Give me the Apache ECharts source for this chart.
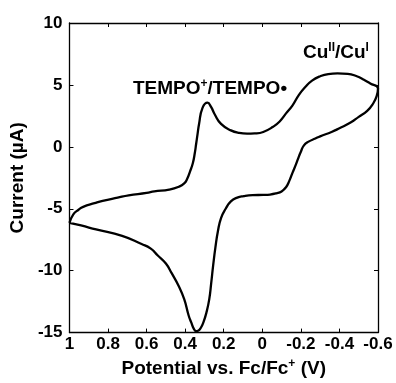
<!DOCTYPE html>
<html lang="en">
<head>
    <meta charset="UTF-8">
    <title>CV TEMPO / Cu</title>
    <script src="https://cdn.jsdelivr.net/npm/echarts@6/dist/echarts.min.js"></script>
    <style>
        html, body { margin: 0; padding: 0; background: #fff; }
        #cv { width: 396px; height: 383px; }
    </style>
</head>
<body>
<div id="cv"></div>
<script type="text/javascript">
    // upper branch, 1 V -> -0.6 V
    var upperE = [1, 0.98, 0.953, 0.929, 0.87, 0.828, 0.75, 0.693, 0.6, 0.56, 0.483, 0.433, 0.405,
        0.39, 0.375, 0.36, 0.35, 0.343, 0.336, 0.328, 0.31, 0.284, 0.265, 0.247, 0.214, 0.163, 0.12,
        0.079, 0.04, -0.005, -0.056, -0.09, -0.123, -0.157, -0.19, -0.224, -0.258, -0.3, -0.342,
        -0.39, -0.443, -0.49, -0.527, -0.56, -0.6];
    var upperI = [-6.14, -5.45, -5.08, -4.85, -4.55, -4.36, -4.1, -3.92, -3.72, -3.6, -3.45, -3.22, -2.95,
        -2.6, -2.0, -1.3, -0.5, 0.25, 1.0, 1.85, 3.15, 3.57, 3.2, 2.63, 1.85, 1.33, 1.12,
        1.06, 1.08, 1.2, 1.62, 2.05, 2.7, 3.35, 4.2, 4.85, 5.35, 5.7, 5.88,
        5.93, 5.9, 5.7, 5.42, 5.12, 4.72];
    // lower branch, -0.6 V -> 1 V
    var lowerE = [-0.6, -0.593, -0.575, -0.544, -0.5, -0.46, -0.4, -0.359, -0.3, -0.275, -0.24, -0.215,
        -0.2, -0.19, -0.175, -0.157, -0.14, -0.123, -0.1, -0.073, -0.04, -0.005, 0.05, 0.096, 0.13,
        0.163, 0.19, 0.214, 0.23, 0.243, 0.255, 0.265, 0.275, 0.29, 0.305, 0.32, 0.333, 0.343, 0.355,
        0.368, 0.382, 0.405, 0.433, 0.47, 0.5, 0.542, 0.58, 0.626, 0.727, 0.862, 0.94, 1];
    var lowerI = [4.72, 4.1, 3.5, 2.9, 2.42, 1.98, 1.5, 1.2, 0.85, 0.67, 0.42, 0.1,
        -0.4, -0.77, -1.4, -2.08, -2.75, -3.26, -3.6, -3.75, -3.85, -3.88, -3.9, -3.98, -4.1,
        -4.4, -5.0, -5.75, -6.8, -8.1, -9.6, -11.0, -12.3, -13.4, -14.15, -14.65, -14.85, -14.88, -14.7,
        -14.2, -13.62, -12.3, -11.25, -10.2, -9.42, -8.77, -8.2, -7.85, -7.19, -6.67, -6.35, -6.14];

    var xTicks = {min: -0.6, max: 1, step: 0.2};
    var yTicks = {min: -15, max: 10, step: 5};

    var loop = [];
    for (var i = 0; i < upperE.length; i++) loop.push([upperE[i], upperI[i]]);
    for (var j = 1; j < lowerE.length; j++) loop.push([lowerE[j], lowerI[j]]);

    var font = 'Liberation Sans, Arial, sans-serif';
    var fmt = function (v) { return String(Number(v.toFixed(1))); };
    var frame = {onZero: false, lineStyle: {color: '#000', width: 1.3}};
    var ticks = {inside: true, length: 4, lineStyle: {color: '#000', width: 1}};

    function xAxisDef(pos, labels) {
        return {
            type: 'value', position: pos, inverse: true,
            min: xTicks.min, max: xTicks.max, interval: xTicks.step,
            axisLine: frame, axisTick: ticks, splitLine: {show: false},
            axisLabel: {show: labels, formatter: fmt, color: '#000', fontFamily: font,
                fontWeight: 'bold', fontSize: 17, margin: 3}
        };
    }
    function yAxisDef(pos, labels) {
        return {
            type: 'value', position: pos,
            min: yTicks.min, max: yTicks.max, interval: yTicks.step,
            axisLine: frame, axisTick: ticks, splitLine: {show: false},
            axisLabel: {show: labels, formatter: fmt, color: '#000', fontFamily: font,
                fontWeight: 'bold', fontSize: 17, margin: 7}
        };
    }

    var xBottom = xAxisDef('bottom', true);
    xBottom.name = '{b|Potential vs. Fc/Fc}{s|+}{b| (V)}';
    xBottom.nameLocation = 'middle';
    xBottom.nameGap = 19;
    xBottom.nameTextStyle = {rich: {
        b: {fontFamily: font, fontWeight: 'bold', fontSize: 19, color: '#000', lineHeight: 22},
        s: {fontFamily: font, fontWeight: 'bold', fontSize: 12, color: '#000', verticalAlign: 'top', lineHeight: 14}
    }};
    var yLeft = yAxisDef('left', true);
    yLeft.name = 'Current (µA)';
    yLeft.nameLocation = 'middle';
    yLeft.nameGap = 25;
    yLeft.nameTextStyle = {fontFamily: font, fontWeight: 'bold', fontSize: 19, color: '#000'};

    var annRich = {
        b: {fontFamily: font, fontWeight: 'bold', fontSize: 19, color: '#000', lineHeight: 22},
        s: {fontFamily: font, fontWeight: 'bold', fontSize: 12, color: '#000', verticalAlign: 'top', lineHeight: 14}
    };

    var chart = echarts.init(document.getElementById('cv'));
    chart.setOption({
        animation: false,
        grid: {left: 61, right: 18, top: 23, bottom: 42},
        title: [
            {text: '{b|TEMPO}{s|+}{b|/TEMPO•}', left: 133, top: 78, padding: 0,
                textStyle: {rich: annRich}},
            {text: '{b|Cu}{s|II}{b|/Cu}{s|I}', left: 303, top: 42, padding: 0,
                textStyle: {rich: annRich}}
        ],
        xAxis: [xBottom, xAxisDef('top', false)],
        yAxis: [yLeft, yAxisDef('right', false)],
        series: [{
            type: 'line',
            data: loop,
            smooth: 0.5,
            showSymbol: false,
            lineStyle: {color: '#000', width: 2.3}
        }]
    });
</script>
</body>
</html>
